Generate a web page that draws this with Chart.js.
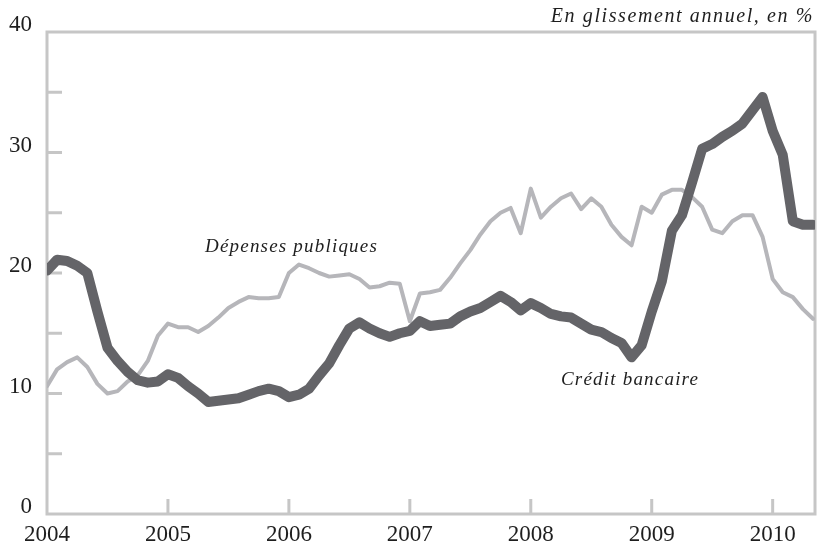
<!DOCTYPE html>
<html>
<head>
<meta charset="utf-8">
<script src="https://cdn.jsdelivr.net/npm/chart.js@4/dist/chart.umd.min.js"></script>
<style>
  html, body { margin: 0; padding: 0; background: #fff; }
  #wrap { width: 818px; height: 549px; }
</style>
</head>
<body>
<div id="wrap"><canvas id="grafiek" width="818" height="549"></canvas></div>
<script>
// mensuel, janvier 2004 -> avril 2010
const debut = 2004;
const annees = [2004, 2005, 2006, 2007, 2008, 2009, 2010];

const creditBancaire = [
  20.2, 21.1, 21.0, 20.6, 20.0, 16.8, 13.8, 12.7, 11.8, 11.1, 10.9, 11.0,
  11.6, 11.3, 10.6, 10.0, 9.3, 9.4, 9.5, 9.6, 9.9, 10.2, 10.4, 10.2,
  9.7, 9.9, 10.4, 11.5, 12.5, 14.0, 15.4, 15.9, 15.4, 15.0, 14.7, 15.0,
  15.2, 16.0, 15.6, 15.7, 15.8, 16.4, 16.8, 17.1, 17.6, 18.1, 17.6, 16.9,
  17.5, 17.1, 16.6, 16.4, 16.3, 15.8, 15.3, 15.1, 14.6, 14.2, 13.0, 14.0,
  16.8, 19.3, 23.5, 24.8, 27.5, 30.3, 30.7, 31.3, 31.8, 32.4, 33.5, 34.6,
  31.8, 29.8, 24.3, 24.0, 24.0
];

const depensesPubliques = [
  10.6, 12.0, 12.6, 13.0, 12.2, 10.8, 10.0, 10.2, 11.0, 11.5, 12.7, 14.8,
  15.8, 15.5, 15.5, 15.1, 15.6, 16.3, 17.1, 17.6, 18.0, 17.9, 17.9, 18.0,
  20.0, 20.7, 20.4, 20.0, 19.7, 19.8, 19.9, 19.5, 18.8, 18.9, 19.2, 19.1,
  16.0, 18.3, 18.4, 18.6, 19.6, 20.8, 21.9, 23.2, 24.3, 25.0, 25.4, 23.3,
  27.0, 24.6, 25.5, 26.2, 26.6, 25.3, 26.2, 25.5, 24.0, 23.0, 22.3, 25.5,
  25.0, 26.5, 26.9, 26.9, 26.3, 25.5, 23.6, 23.3, 24.3, 24.8, 24.8, 23.0,
  19.5, 18.4, 18.0, 17.0, 16.2
];

const yTicks = [0, 5, 10, 15, 20, 25, 30, 35, 40];

const toPoints = arr => arr.map((v, i) => ({ x: debut + i / 12, y: v }));

const grijs = '#c6c6c6';
const serif = "'Liberation Serif', 'Times New Roman', serif";

// kader, binnen-tickjes en teksten
const decor = {
  id: 'decor',
  beforeDatasetsDraw(chart) {
    const { ctx, chartArea: a, scales } = chart;
    ctx.save();
    ctx.strokeStyle = grijs;
    ctx.lineWidth = 3;
    ctx.strokeRect(a.left, a.top, a.right - a.left, a.bottom - a.top);
    ctx.beginPath();
    yTicks.slice(1, -1).forEach(v => {
      const y = scales.y.getPixelForValue(v);
      ctx.moveTo(a.left, y);
      ctx.lineTo(a.left + 15, y);
    });
    annees.slice(1).forEach(j => {
      const x = scales.x.getPixelForValue(j);
      ctx.moveTo(x, a.bottom);
      ctx.lineTo(x, a.bottom - 15);
    });
    ctx.stroke();
    ctx.restore();
  },
  afterDraw(chart) {
    const { ctx } = chart;
    ctx.save();
    ctx.fillStyle = '#1e1e1e';
    ctx.textBaseline = 'alphabetic';
    ctx.letterSpacing = '1.6px';
    ctx.font = 'italic 20px ' + serif;
    ctx.textAlign = 'right';
    ctx.fillText('En glissement annuel, en %', 814, 22);
    ctx.letterSpacing = '1.2px';
    ctx.font = 'italic 19px ' + serif;
    ctx.textAlign = 'left';
    ctx.fillText('Dépenses publiques', 205, 252);
    ctx.fillText('Crédit bancaire', 561, 385);
    ctx.restore();
  }
};

const ctx = document.getElementById('grafiek').getContext('2d');

new Chart(ctx, {
  type: 'line',
  data: {
    datasets: [
      {
        label: 'Crédit bancaire',
        data: toPoints(creditBancaire),
        borderColor: '#646468',
        borderWidth: 10,
        borderJoinStyle: 'round',
        borderCapStyle: 'round',
        pointRadius: 0,
        tension: 0,
        fill: false
      },
      {
        label: 'Dépenses publiques',
        data: toPoints(depensesPubliques),
        borderColor: '#b6b6ba',
        borderWidth: 4,
        borderJoinStyle: 'round',
        borderCapStyle: 'round',
        pointRadius: 0,
        tension: 0,
        fill: false
      }
    ]
  },
  options: {
    responsive: false,
    animation: false,
    layout: { padding: { top: 32, right: 3, left: 0, bottom: 0 } },
    plugins: {
      legend: { display: false },
      tooltip: { enabled: false }
    },
    scales: {
      x: {
        type: 'linear',
        min: 2004,
        max: 2010.35,
        afterFit: s => { s.height = 35; },
        afterBuildTicks: s => { s.ticks = annees.map(v => ({ value: v })); },
        grid: { display: false, drawTicks: false },
        border: { display: false },
        ticks: {
          padding: 7,
          color: '#1e1e1e',
          font: { family: serif, size: 23 },
          callback: v => String(v)
        }
      },
      y: {
        min: 0,
        max: 40,
        afterFit: s => { s.width = 47; },
        afterBuildTicks: s => { s.ticks = yTicks.map(v => ({ value: v })); },
        grid: { display: false, drawTicks: false },
        border: { display: false },
        ticks: {
          padding: 15,
          labelOffset: -7,
          color: '#1e1e1e',
          font: { family: serif, size: 23 },
          callback: v => (v % 10 === 0 ? String(v) : '')
        }
      }
    }
  },
  plugins: [decor]
});
</script>
</body>
</html>
